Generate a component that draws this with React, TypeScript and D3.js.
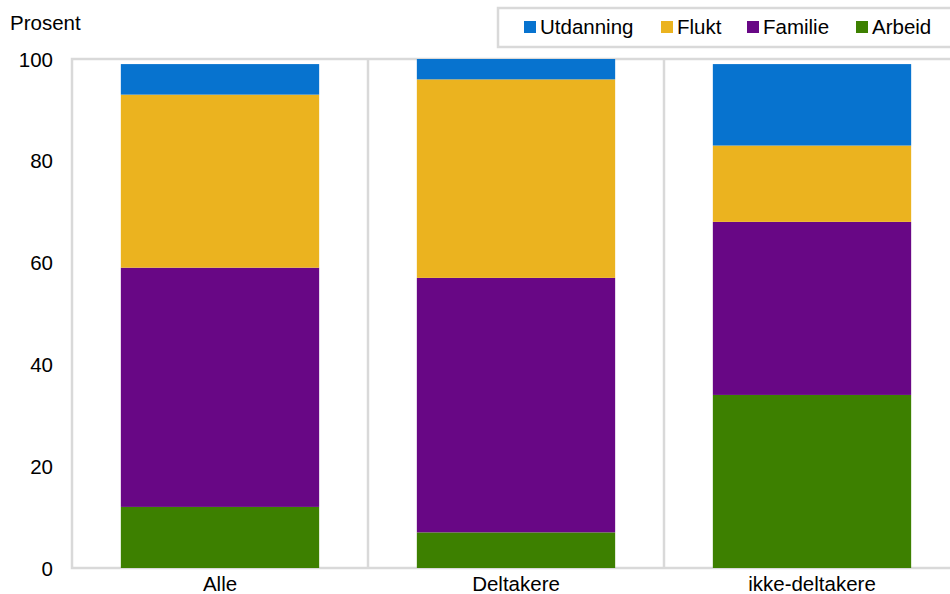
import React from "react";
import * as d3 from "d3";

const categories = ["Alle", "Deltakere", "ikke-deltakere"];
const seriesNames = ["Arbeid", "Familie", "Flukt", "Utdanning"];
const arbeid = [12, 7, 34];
const familie = [47, 50, 34];
const flukt = [34, 39, 15];
const utdanning = [6, 4, 16];
const yTicks = [0, 20, 40, 60, 80, 100];
const legendOrder = ["Utdanning", "Flukt", "Familie", "Arbeid"];
const colors: Record<string, string> = {
  Arbeid: "#3d8000",
  Familie: "#680785",
  Flukt: "#ebb31f",
  Utdanning: "#0773cf",
};

const W = 950;
const H = 594;
const left = 72;
const right = 960;
const top = 59;
const bottom = 568;
const font = "'Liberation Sans', Arial, sans-serif";
const fs = 20.5;

export default function App() {
  const rows = categories.map((c, i) => ({
    cat: c,
    Arbeid: arbeid[i],
    Familie: familie[i],
    Flukt: flukt[i],
    Utdanning: utdanning[i],
  }));
  const stacked = d3.stack<any>().keys(seriesNames)(rows);
  const x = d3.scaleBand().domain(categories).range([left, right]).paddingInner(0).paddingOuter(0);
  const y = d3.scaleLinear().domain([0, 100]).range([bottom, top]);
  const bw = x.bandwidth() * 0.67;

  const legendX = [524, 661, 747, 856];

  return (
    <svg width={W} height={H} style={{ position: "absolute", left: 0, top: 0, display: "block" }} fontFamily={font}>
      <rect x={0} y={0} width={W} height={H} fill="#fff" />
      <rect x={left} y={top} width={right - left} height={bottom - top} fill="none" stroke="#d9d9d9" strokeWidth={2.5} />
      {categories.slice(1).map((c) => (
        <line key={c} x1={x(c)!} x2={x(c)!} y1={top} y2={bottom} stroke="#d9d9d9" strokeWidth={2.5} />
      ))}
      {stacked.map((s) => (
        <g key={s.key} fill={colors[s.key]}>
          {s.map((d, i) => (
            <rect
              key={i}
              x={x(categories[i])! + (x.bandwidth() - bw) / 2}
              y={y(d[1])}
              width={bw}
              height={y(d[0]) - y(d[1])}
            />
          ))}
        </g>
      ))}
      {yTicks.map((t) => (
        <text key={t} x={53} y={y(t) + 7.5} textAnchor="end" fontSize={fs} fill="#000">
          {t}
        </text>
      ))}
      {categories.map((c) => (
        <text key={c} x={x(c)! + x.bandwidth() / 2} y={591} textAnchor="middle" fontSize={fs} fill="#000">
          {c}
        </text>
      ))}
      <text x={10} y={30} fontSize={fs} fill="#000">Prosent</text>
      <rect x={498} y={8} width={470} height={39} fill="#fff" stroke="#d9d9d9" strokeWidth={2.5} />
      {legendOrder.map((k, i) => (
        <g key={k}>
          <rect x={legendX[i]} y={21} width={12} height={12} fill={colors[k]} />
          <text x={legendX[i] + 16} y={34} fontSize={fs} fill="#000">{k}</text>
        </g>
      ))}
    </svg>
  );
}
